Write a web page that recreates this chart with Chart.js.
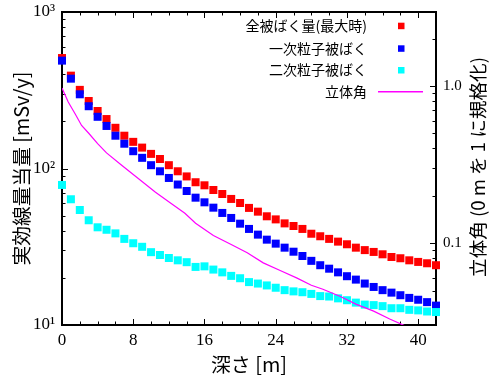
<!DOCTYPE html>
<html>
<head>
<meta charset="utf-8">
<script src="https://cdn.jsdelivr.net/npm/chart.js@4/dist/chart.umd.min.js"></script>
<style>
html,body{margin:0;padding:0;background:#fff;}
#c{display:block;}
</style>
</head>
<body>
<canvas id="c" width="500" height="379"></canvas>
<script>
// ---- data ----
const depthM = [0,1,2,3,4,5,6,7,8,9,10,11,12,13,14,15,16,17,18,19,20,21,22,23,24,25,26,27,28,29,30,31,32,33,34,35,36,37,38,39,40,41,42];
const totalDose = [508,392,318,270,233,207,182,162,148,136,124,115,105,96,89,81.7,78.1,72.9,68.7,63.9,60.2,56.0,53.0,49.5,47.3,44.6,42.9,41.1,38.3,36.9,35.5,34.1,32.8,31.2,30.1,29.3,28.3,27.2,26.7,25.9,25.3,24.8,24.1];
const primaryDose = [489,375,298,250,214,187,162,144,129,117,105,96,87,79,71.8,65.1,60.8,56.2,52.0,48.3,44.4,41.1,37.8,35.1,33.1,31.2,29.4,27.6,25.7,24.1,22.9,21.7,20.5,19.5,18.4,17.5,16.7,16.1,15.5,14.9,14.5,14.0,13.3];
const secondaryDose = [78.5,63.6,54.3,46.7,42.1,40.6,38.5,35.5,33.3,31.6,29.2,28.0,26.8,25.9,25.2,23.5,23.7,22.6,21.7,20.6,19.9,18.8,18.4,17.9,17.3,16.7,16.4,16.2,15.8,15.3,15.2,14.8,14.4,13.9,13.5,13.4,13.2,12.8,12.8,12.5,12.4,12.2,12.1];
const solidAngleDepth = [0,0.7,1.5,2.2,3,4,5,6.7,8.6,10.5,12.3,13.8,15,17,19,20.8,22.6,24.5,26.4,28,29.3,31.2,33,35,36.8,38.6,40];
const solidAngleValue = [0.97,0.79,0.66,0.56,0.50,0.43,0.375,0.313,0.257,0.211,0.178,0.155,0.134,0.112,0.098,0.087,0.075,0.067,0.060,0.054,0.051,0.046,0.041,0.037,0.033,0.0297,0.027];
const seriesLabels = ['全被ばく量(最大時)','一次粒子被ばく','二次粒子被ばく','立体角'];
const xTickValues = [0,8,16,24,32,40];
const yTickValues = [10,100,1000];
const yTickLabels = ['10¹','10²','10³'];
const y2TickValues = [0.1,1];
const y2TickLabels = ['0.1','1.0'];
const xTitle = '深さ [m]';
const yTitle = '実効線量当量 [mSv/y]';
const y2Title = '立体角 (0 m を 1 に規格化)';

const pts = (xs, ys) => xs.map((x,i)=>({x:x, y:ys[i]}));

const serif = 'Liberation Serif';
const cjk = "'Noto Sans CJK JP'";

function fitText(ctx, text, target, maxSize) {
  let size = maxSize;
  ctx.font = size + 'px ' + cjk;
  const w = ctx.measureText(text).width;
  if (w > 0) size = Math.min(maxSize, size * target / w);
  ctx.font = size.toFixed(2) + 'px ' + cjk;
}

const decor = {
  id: 'decor',
  beforeDatasetsDraw(chart){
    const ctx = chart.ctx, a = chart.chartArea;
    const xs = chart.scales.x, ys = chart.scales.y, y2 = chart.scales.y2;
    ctx.save();
    ctx.strokeStyle = '#000';
    ctx.lineWidth = 1;
    ctx.beginPath();
    for (let v = 0; v <= 42; v += 2) {
      const px = Math.round(xs.getPixelForValue(v)) + 0.5;
      const len = (v % 8 === 0) ? 6 : 3.5;
      ctx.moveTo(px, a.bottom); ctx.lineTo(px, a.bottom - len);
      ctx.moveTo(px, a.top); ctx.lineTo(px, a.top + len);
    }
    for (let d = 10; d < 1000; d *= 10) {
      for (let m = 1; m <= 9; m++) {
        const py = Math.round(ys.getPixelForValue(d * m)) + 0.5;
        const len = m === 1 ? 6 : 3.5;
        ctx.moveTo(a.left, py); ctx.lineTo(a.left + len, py);
      }
    }
    for (let d = 0.01; d < 5; d *= 10) {
      for (let m = 1; m <= 9; m++) {
        const v = d * m;
        if (v < y2.min || v > y2.max) continue;
        const py = Math.round(y2.getPixelForValue(v)) + 0.5;
        const len = m === 1 ? 6 : 3.5;
        ctx.moveTo(a.right, py); ctx.lineTo(a.right - len, py);
      }
    }
    ctx.stroke();
    ctx.lineWidth = 2;
    ctx.strokeRect(a.left, a.top, a.right - a.left, a.bottom - a.top);
    ctx.restore();
  },
  afterDraw(chart){
    const ctx = chart.ctx, a = chart.chartArea;
    ctx.save();
    ctx.fillStyle = '#000';
    ctx.textAlign = 'center';
    ctx.textBaseline = 'middle';
    fitText(ctx, xTitle, 76, 20);
    ctx.fillText(xTitle, (a.left + a.right) / 2, 364);
    ctx.save();
    fitText(ctx, yTitle, 194, 20);
    ctx.translate(22, (a.top + a.bottom) / 2);
    ctx.rotate(-Math.PI / 2);
    ctx.fillText(yTitle, 0, 0);
    ctx.restore();
    ctx.save();
    fitText(ctx, y2Title, 220, 20);
    ctx.translate(478, 167);
    ctx.rotate(-Math.PI / 2);
    ctx.fillText(y2Title, 0, 0);
    ctx.restore();
    const rows = [25.7, 48.3, 70, 91.7];
    ctx.font = '14px ' + cjk;
    ctx.textAlign = 'right';
    chart.data.datasets.forEach((ds, i) => {
      const y = rows[i];
      ctx.fillStyle = '#000';
      ctx.fillText(ds.label, 367, y);
      if (ds.showLine === false) {
        ctx.fillStyle = ds.backgroundColor;
        ctx.fillRect(398, y - 3, 6.5, 6.5);
      } else {
        ctx.strokeStyle = ds.borderColor;
        ctx.lineWidth = 1.5;
        ctx.beginPath();
        ctx.moveTo(378, y); ctx.lineTo(423, y);
        ctx.stroke();
      }
    });
    ctx.restore();
  }
};

const noPad = s => { s.paddingTop = 0; s.paddingBottom = 0; s.paddingLeft = 0; s.paddingRight = 0; };

new Chart(document.getElementById('c'), {
  type: 'line',
  data: {
    datasets: [
      { label: seriesLabels[0], data: pts(depthM, totalDose), showLine: false,
        backgroundColor: '#ff0000', borderColor: '#ff0000', pointStyle: 'rect',
        pointRadius: 5.66, pointBorderWidth: 0, yAxisID: 'y', order: 4, clip: false },
      { label: seriesLabels[1], data: pts(depthM, primaryDose), showLine: false,
        backgroundColor: '#0000ff', borderColor: '#0000ff', pointStyle: 'rect',
        pointRadius: 5.66, pointBorderWidth: 0, yAxisID: 'y', order: 3, clip: false },
      { label: seriesLabels[2], data: pts(depthM, secondaryDose), showLine: false,
        backgroundColor: '#00ffff', borderColor: '#00ffff', pointStyle: 'rect',
        pointRadius: 5.66, pointBorderWidth: 0, yAxisID: 'y', order: 2, clip: false },
      { label: seriesLabels[3], data: pts(solidAngleDepth, solidAngleValue), showLine: true,
        borderColor: '#ff00ff', backgroundColor: '#ff00ff', borderWidth: 1.2,
        pointRadius: 0, tension: 0, fill: false, yAxisID: 'y2', order: 1 }
    ]
  },
  options: {
    responsive: false,
    animation: false,
    devicePixelRatio: 1,
    layout: { padding: { top: 12, left: 0, right: 0, bottom: 0 } },
    plugins: { legend: { display: false }, tooltip: { enabled: false } },
    scales: {
      x: {
        type: 'linear', min: 0, max: 42, position: 'bottom',
        grid: { display: false, drawTicks: false }, border: { display: false },
        afterBuildTicks: s => { s.ticks = xTickValues.map(v => ({ value: v })); },
        afterFit: s => { s.height = 54; noPad(s); },
        ticks: { font: { family: serif, size: 17 }, color: '#000', padding: 5, autoSkip: false, maxRotation: 0 }
      },
      y: {
        type: 'logarithmic', min: 10, max: 1000, position: 'left',
        grid: { display: false, drawTicks: false }, border: { display: false },
        afterBuildTicks: s => { s.ticks = yTickValues.map(v => ({ value: v })); },
        afterFit: s => { s.width = 62; noPad(s); },
        ticks: { font: { family: serif, size: 17 }, color: '#000', padding: 7, autoSkip: false,
                 callback: (v, i) => yTickLabels[i] }
      },
      y2: {
        type: 'logarithmic', min: 0.0302, max: 2.95, position: 'right',
        grid: { display: false, drawTicks: false }, border: { display: false },
        afterBuildTicks: s => { s.ticks = y2TickValues.map(v => ({ value: v })); },
        afterFit: s => { s.width = 64; noPad(s); },
        ticks: { font: { family: serif, size: 15 }, color: '#000', padding: 7, autoSkip: false,
                 callback: (v, i) => y2TickLabels[i] }
      }
    }
  },
  plugins: [decor]
});
</script>
</body>
</html>
